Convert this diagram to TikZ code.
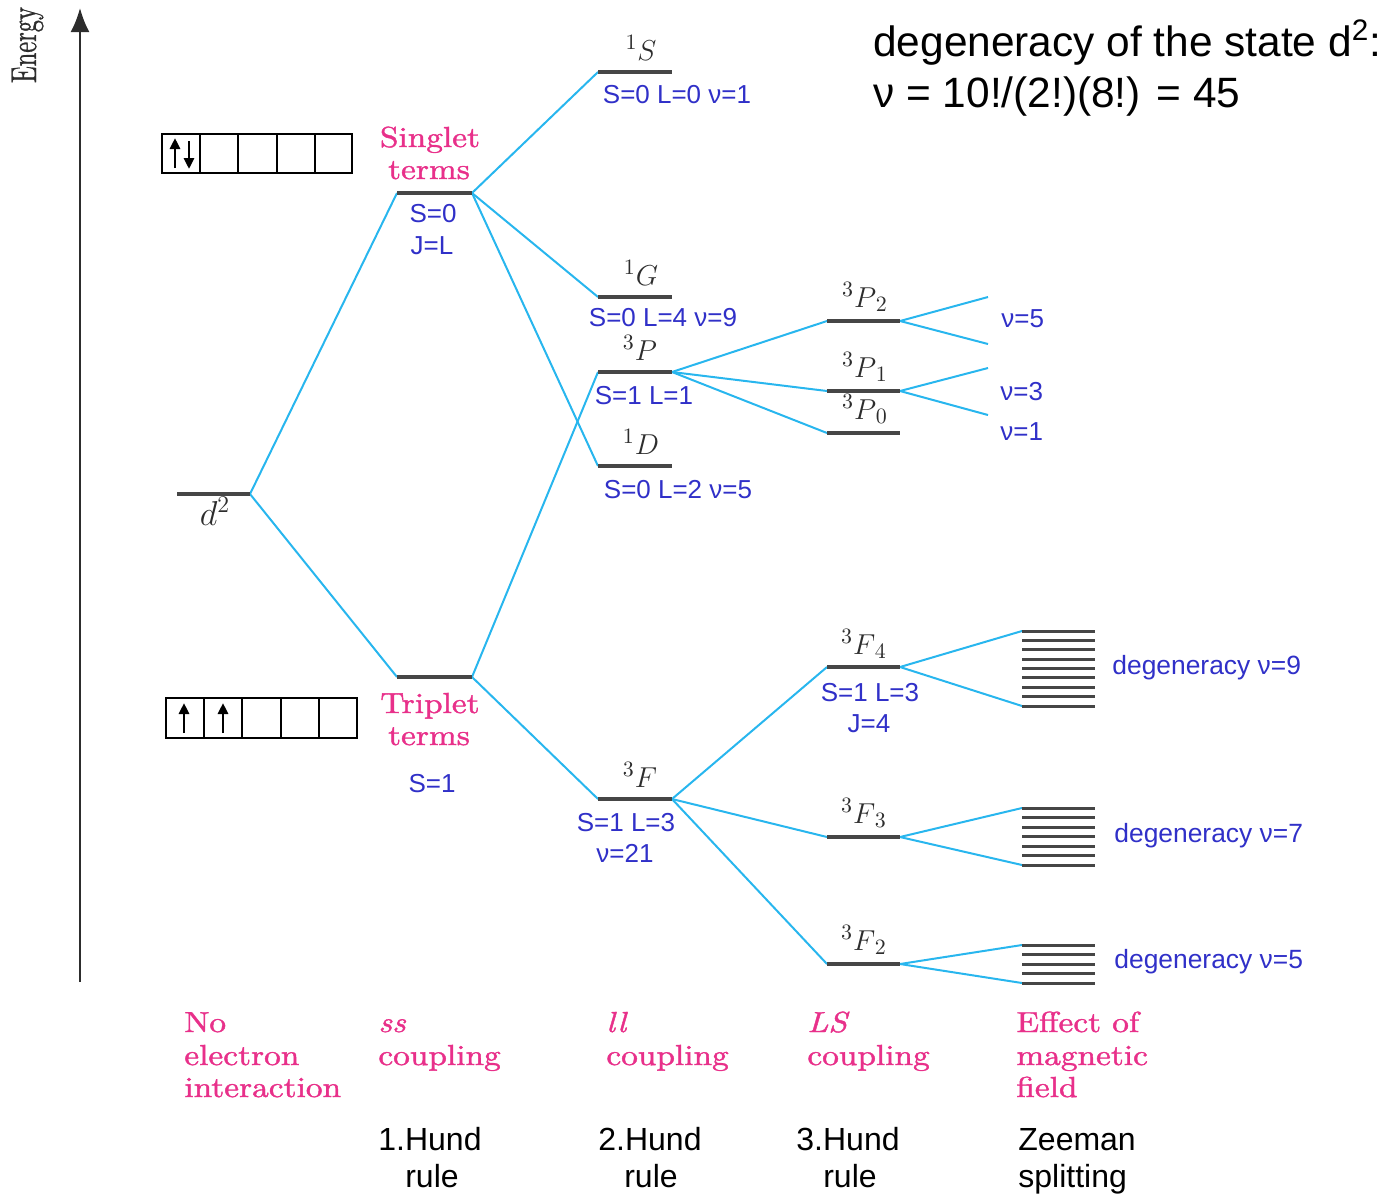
\documentclass[tikz,border=0pt]{standalone}
\usepackage{fontspec}
\newfontfamily\arialf{Liberation Sans}
\newfontfamily\pinkf{lmroman10-regular.otf}[FakeBold=1.3, ItalicFont=lmroman10-italic.otf]
\newfontfamily\enf{lmroman10-regular.otf}[FakeBold=1.0]
\usetikzlibrary{arrows.meta}
\definecolor{cyanline}{RGB}{40,182,238}
\definecolor{bluetxt}{RGB}{48,48,200}
\definecolor{pinktxt}{RGB}{232,48,138}
\definecolor{lvlgray}{RGB}{70,70,70}
\definecolor{termgray}{RGB}{45,45,45}
\newcommand\pkw[1]{\scalebox{1.15}[1]{#1}}
\newcommand\levc[4]{\coordinate (#1L) at (#2,#4); \coordinate (#1R) at (#3,#4);}
\begin{document}
\begin{tikzpicture}[x=0.5pt,y=-0.5pt,
  conn/.style={cyanline, line width=1pt},
  lvlline/.style={lvlgray, line width=1.6pt},
  zline/.style={lvlgray, line width=1.5pt},
  axisline/.style={termgray, line width=1pt, -{Latex[length=12pt,width=9.5pt]}},
  boxline/.style={black, line width=1.2pt},
  boxarrow/.style={black, line width=1.4pt, -{Triangle[length=5.5pt,width=5pt]}},
  bluelab/.style={text=bluetxt, font=\arialf\fontsize{13}{15}\selectfont, inner sep=0pt, anchor=base},
  bluew/.style={text=bluetxt, font=\arialf\fontsize{13}{15}\selectfont, inner sep=0pt, anchor=base west},
  deglab/.style={text=bluetxt, font=\arialf\fontsize{13.2}{15}\selectfont, inner sep=0pt, anchor=base west},
  termlab/.style={text=termgray, font=\fontsize{15.5}{17}\selectfont, inner sep=0pt, anchor=base},
  pinkc/.style={text=pinktxt, font=\pinkf\fontsize{14.5}{17}\selectfont, inner sep=0pt, anchor=base},
  pinkw/.style={text=pinktxt, font=\pinkf\fontsize{14.5}{17}\selectfont, inner sep=0pt, anchor=base west},
  blackc/.style={text=black, font=\arialf\fontsize{16}{19}\selectfont, inner sep=0pt, anchor=base},
  blackw/.style={text=black, font=\arialf\fontsize{16}{19}\selectfont, inner sep=0pt, anchor=base west},
  bigtxt/.style={text=black, font=\arialf\fontsize{21.2}{25}\selectfont, inner sep=0pt, anchor=base west}
]
\useasboundingbox (0,0) rectangle (1386,1196);

% energy axis
\coordinate (axB) at (80,982);
\coordinate (axT) at (80,8);
\draw[axisline] (axB) -- (axT);
\node[rotate=90, anchor=base, inner sep=0pt, text=termgray, font=\enf\fontsize{18}{20}\selectfont] (energy) at (36,45) {\scalebox{0.68}[1]{Energy}};

% orbital boxes
\draw[boxline] (162,134) rectangle (352,173);
\foreach \x in {200,238,277,315} \draw[boxline] (\x,134) -- (\x,173);
\draw[boxarrow] (175,168) -- (175,138);
\draw[boxarrow] (189,141) -- (189,169);
\draw[boxline] (166,698) rectangle (357,738);
\foreach \x in {204,242,281,319} \draw[boxline] (\x,698) -- (\x,738);
\draw[boxarrow] (184,733) -- (184,703);
\draw[boxarrow] (223,733) -- (223,703);

% level coordinates
\levc{dd}{177}{250}{494}
\levc{sg}{397}{472}{193}
\levc{tr}{397}{472}{677}
\levc{oS}{598}{672}{72}
\levc{oG}{598}{672}{297}
\levc{tP}{598}{672}{372}
\levc{oD}{598}{672}{466}
\levc{tF}{598}{672}{799}
\levc{Ptwo}{827}{900}{321}
\levc{Pone}{827}{900}{391}
\levc{Pzero}{827}{900}{433}
\levc{Ffour}{827}{900}{667}
\levc{Fthree}{827}{900}{837}
\levc{Ftwo}{827}{900}{964}
\coordinate (PtwoU) at (988,297);
\coordinate (PtwoD) at (988,344);
\coordinate (PoneU) at (988,368);
\coordinate (PoneD) at (988,415);
\coordinate (FfourU) at (1022,631);
\coordinate (FfourD) at (1022,706);
\coordinate (FthreeU) at (1022,808);
\coordinate (FthreeD) at (1022,865);
\coordinate (FtwoU) at (1022,945);
\coordinate (FtwoD) at (1022,983);

% connectors
\draw[conn] (ddR) -- (sgL);
\draw[conn] (ddR) -- (trL);
\draw[conn] (sgR) -- (oSL);
\draw[conn] (sgR) -- (oGL);
\draw[conn] (sgR) -- (oDL);
\draw[conn] (trR) -- (tPL);
\draw[conn] (trR) -- (tFL);
\draw[conn] (tPR) -- (PtwoL);
\draw[conn] (tPR) -- (PoneL);
\draw[conn] (tPR) -- (PzeroL);
\draw[conn] (tFR) -- (FfourL);
\draw[conn] (tFR) -- (FthreeL);
\draw[conn] (tFR) -- (FtwoL);
\draw[conn] (PtwoR) -- (PtwoU);
\draw[conn] (PtwoR) -- (PtwoD);
\draw[conn] (PoneR) -- (PoneU);
\draw[conn] (PoneR) -- (PoneD);
\draw[conn] (FfourR) -- (FfourU);
\draw[conn] (FfourR) -- (FfourD);
\draw[conn] (FthreeR) -- (FthreeU);
\draw[conn] (FthreeR) -- (FthreeD);
\draw[conn] (FtwoR) -- (FtwoU);
\draw[conn] (FtwoR) -- (FtwoD);

% level lines
\foreach \n in {dd,sg,tr,oS,oG,tP,oD,tF,Ptwo,Pone,Pzero,Ffour,Fthree,Ftwo}
  \draw[lvlline] (\n L) -- (\n R);

% Zeeman lines
\foreach \t/\b/\k in {631/706/9, 808/865/7, 945/983/5} {
  \foreach \i in {1,...,\k} {
    \pgfmathsetmacro\yy{\t+(\i-1)*(\b-\t)/(\k-1)}
    \draw[zline] (1022,\yy) -- (1095,\yy);
  }
}

% term symbols
\node[termlab, font=\fontsize{17.28}{19}\selectfont] (tdd) at (215,525) {$d^2$};
\node[termlab] (toS) at (641,60) {$^1S$};
\node[termlab] (toG) at (641,285) {$^1G$};
\node[termlab] (ttP) at (640,360) {$^3P$};
\node[termlab] (toD) at (641,454) {$^1D$};
\node[termlab] (ttF) at (640,787) {$^3F$};
\node[termlab] (tP2) at (865,307) {$^3P_{\,2}$};
\node[termlab] (tP1) at (865,377) {$^3P_{\,1}$};
\node[termlab] (tP0) at (865,419) {$^3P_{\,0}$};
\node[termlab] (tF4) at (864,654) {$^3F_{\,4}$};
\node[termlab] (tF3) at (864,823) {$^3F_{\,3}$};
\node[termlab] (tF2) at (864,950) {$^3F_{\,2}$};

% blue labels
\node[bluelab] (lS) at (677,103) {S=0 L=0 ν=1};
\node[bluelab] (lG) at (663,326) {S=0 L=4 ν=9};
\node[bluelab] (lP) at (644,404) {S=1 L=1};
\node[bluelab] (lD) at (678,498) {S=0 L=2 ν=5};
\node[bluelab] (lFa) at (626,831) {S=1 L=3};
\node[bluelab] (lFb) at (625,862) {ν=21};
\node[bluelab] (lF4a) at (870,701) {S=1 L=3};
\node[bluelab] (lF4b) at (869,732) {J=4};
\node[bluelab] (lsga) at (433,222) {S=0};
\node[bluelab] (lsgb) at (432,254) {J=L};
\node[bluelab] (ltr) at (432,792) {S=1};
\node[bluew] (nfive) at (1001,327) {ν=5};
\node[bluew] (nthree) at (1000,400) {ν=3};
\node[bluew] (none) at (1000,440) {ν=1};
\node[deglab] (dgnine) at (1112,674) {degeneracy ν=9};
\node[deglab] (dgseven) at (1114,842) {degeneracy ν=7};
\node[deglab] (dgfive) at (1114,968) {degeneracy ν=5};

% pink labels
\node[pinkc] (sga) at (430,147) {\pkw{Singlet}};
\node[pinkc] (sgb) at (429,179) {\pkw{terms}};
\node[pinkc] (tra) at (430,713) {\pkw{Triplet}};
\node[pinkc] (trb) at (429,745) {\pkw{terms}};
\node[pinkw] (noa) at (184,1032) {\pkw{No}};
\node[pinkw] (nob) at (184,1065) {\pkw{electron}};
\node[pinkw] (noc) at (184,1097) {\pkw{interaction}};
\node[pinkw] (ssa) at (378,1032) {\pkw{\itshape ss}};
\node[pinkw] (ssb) at (378,1065) {\pkw{coupling}};
\node[pinkw] (lla) at (606,1032) {\pkw{\itshape ll}};
\node[pinkw] (llb) at (606,1065) {\pkw{coupling}};
\node[pinkw] (lsa) at (807,1032) {\pkw{\itshape LS}};
\node[pinkw] (lsb) at (807,1065) {\pkw{coupling}};
\node[pinkw] (efa) at (1016,1032) {\pkw{Effect of}};
\node[pinkw] (efb) at (1016,1065) {\pkw{magnetic}};
\node[pinkw] (efc) at (1016,1097) {\pkw{field}};

% black labels
\node[blackc] (hoa) at (430,1150) {1.Hund};
\node[blackc] (hob) at (432,1187) {rule};
\node[blackc] (hta) at (650,1150) {2.Hund};
\node[blackc] (htb) at (651,1187) {rule};
\node[blackc] (hra) at (848,1150) {3.Hund};
\node[blackc] (hrb) at (850,1187) {rule};
\node[blackw] (zea) at (1018,1150) {Zeeman};
\node[blackw] (zeb) at (1018,1187) {splitting};

\node[bigtxt] (dega) at (873,56) {degeneracy of the state d\textsuperscript{2}:};
\node[bigtxt] (degb) at (873,107) {ν = 10!/(2!)(8!) = 45};
\end{tikzpicture}
\end{document}
